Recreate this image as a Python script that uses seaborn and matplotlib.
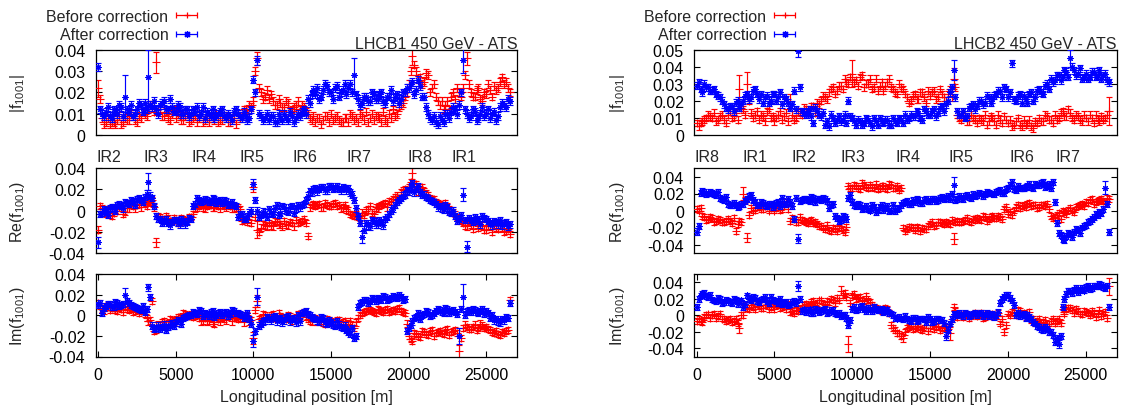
import numpy as np
import matplotlib
matplotlib.use("Agg")
import matplotlib.pyplot as plt
import matplotlib.transforms as mtransforms
from matplotlib.container import ErrorbarContainer
from matplotlib.legend_handler import HandlerErrorbar
from matplotlib.ticker import FuncFormatter, MultipleLocator
import seaborn as sns

sns.set_style("ticks")
plt.rcParams["font.family"] = ["Liberation Sans", "DejaVu Sans"]
plt.rcParams["mathtext.fontset"] = "custom"
plt.rcParams["mathtext.rm"] = "Liberation Sans"
plt.rcParams["mathtext.it"] = "Liberation Sans"
plt.rcParams["axes.unicode_minus"] = False

FS = 11.5

# BPM longitudinal positions [m], first group
s_pos = [
    0, 250, 500, 750, 1000, 1250, 1500, 1750, 2000, 2250, 2500, 2750,
    3000, 3250, 3500, 3750, 4000, 4250, 4500, 4750, 5000, 5250, 5500, 5750,
    6000, 6250, 6500, 6750, 7000, 7250, 7500, 7750, 8000, 8250, 8500, 8750,
    9000, 9250, 9500, 9750, 10000, 10250, 10500, 10750, 11000, 11250, 11500, 11750,
    12000, 12250, 12500, 12750, 13000, 13250, 13500, 13750, 14000, 14250, 14500, 14750,
    15000, 15250, 15500, 15750, 16000, 16250, 16500, 16750, 17000, 17250, 17500, 17750,
    18000, 18250, 18500, 18750, 19000, 19250, 19500, 19750, 20000, 20250, 20500, 20750,
    21000, 21250, 21500, 21750, 22000, 22250, 22500, 22750, 23000, 23250, 23500, 23750,
    24000, 24250, 24500, 24750, 25000, 25250, 25500, 25750, 26000, 26250, 26500,
]
# BPM longitudinal positions [m], second group (in between)
s_pos_mid = [
    125, 375, 625, 875, 1125, 1375, 1625, 1875, 2125, 2375, 2625, 2875,
    3125, 3375, 3625, 3875, 4125, 4375, 4625, 4875, 5125, 5375, 5625, 5875,
    6125, 6375, 6625, 6875, 7125, 7375, 7625, 7875, 8125, 8375, 8625, 8875,
    9125, 9375, 9625, 9875, 10125, 10375, 10625, 10875, 11125, 11375, 11625, 11875,
    12125, 12375, 12625, 12875, 13125, 13375, 13625, 13875, 14125, 14375, 14625, 14875,
    15125, 15375, 15625, 15875, 16125, 16375, 16625, 16875, 17125, 17375, 17625, 17875,
    18125, 18375, 18625, 18875, 19125, 19375, 19625, 19875, 20125, 20375, 20625, 20875,
    21125, 21375, 21625, 21875, 22125, 22375, 22625, 22875, 23125, 23375, 23625, 23875,
    24125, 24375, 24625, 24875, 25125, 25375, 25625, 25875, 26125, 26375,
]

# ---- Beam 1 coupling RDT f1001 (units of 1e-3) ----
b1_abs_before = [
    22, 8, 6, 5, 6, 7, 5, 8, 7, 9, 6, 8,
    10, 12, 14, 34, 12, 9, 8, 10, 8, 9, 7, 10,
    7, 9, 8, 6, 8, 9, 7, 6, 7, 9, 6, 8,
    10, 9, 12, 14, 16, 36, 20, 18, 17, 16, 14, 15,
    13, 15, 12, 14, 12, 13, 10, 7, 6, 8, 7, 9,
    10, 8, 7, 6, 8, 10, 7, 6, 9, 11, 8, 7,
    9, 6, 7, 10, 12, 10, 14, 18, 24, 37, 30, 27,
    25, 28, 22, 18, 14, 12, 16, 18, 17, 20, 22, 36,
    20, 18, 22, 16, 19, 21, 23, 22, 27, 25, 20,
]
b1_abs_before_mid = [
    17, 5, 8, 6, 5, 9, 6, 7, 10, 7, 9, 11,
    9, 14, 11, 12, 9, 11, 7, 12, 10, 7, 9, 6,
    8, 6, 10, 7, 6, 8, 10, 7, 9, 6, 8, 5,
    8, 12, 10, 13, 30, 22, 17, 21, 19, 14, 17, 13,
    16, 11, 13, 16, 14, 11, 8, 9, 8, 5, 9, 6,
    7, 9, 6, 8, 6, 9, 8, 10, 7, 6, 10, 9,
    8, 11, 6, 8, 9, 13, 15, 20, 30, 33, 26, 24,
    29, 20, 24, 16, 16, 14, 12, 20, 22, 18, 28, 24,
    18, 21, 17, 20, 24, 18, 21, 25, 24, 22,
]
b1_abs_after = [
    32, 10, 11, 9, 12, 10, 13, 18, 11, 9, 12, 14,
    15, 27, 13, 12, 14, 16, 12, 13, 11, 13, 10, 12,
    10, 11, 9, 13, 11, 9, 8, 10, 12, 8, 9, 11,
    10, 8, 9, 8, 26, 35, 9, 8, 7, 9, 6, 8,
    10, 7, 9, 8, 9, 12, 17, 19, 19, 17, 21, 23,
    20, 22, 18, 21, 19, 24, 28, 17, 15, 18, 16, 19,
    17, 20, 15, 18, 16, 19, 17, 20, 22, 25, 21, 23,
    18, 10, 7, 6, 9, 6, 10, 11, 12, 14, 35, 10,
    9, 11, 8, 13, 10, 8, 11, 9, 15, 13, 16,
]
b1_abs_after_mid = [
    12, 9, 13, 8, 11, 14, 9, 12, 14, 10, 15, 11,
    12, 14, 16, 10, 15, 12, 17, 11, 14, 10, 12, 9,
    12, 13, 10, 8, 10, 12, 9, 11, 9, 10, 7, 12,
    9, 11, 7, 12, 20, 10, 7, 10, 9, 6, 10, 7,
    8, 11, 6, 10, 11, 10, 15, 21, 22, 18, 24, 20,
    17, 23, 20, 24, 22, 20, 19, 14, 18, 16, 20, 17,
    19, 16, 18, 21, 18, 15, 20, 22, 24, 19, 26, 18,
    13, 8, 9, 5, 7, 10, 8, 13, 10, 20, 12, 8,
    12, 7, 10, 9, 12, 10, 7, 13, 14, 17,
]
b1_re_before = [
    -18, 2, -3, -4, -2, 0, 3, -1, 2, 4, 5, 3,
    6, 9, 10, -30, -6, -8, -7, -10, -9, -11, -8, -10,
    -6, 2, 4, 3, 4, 5, 3, 4, 5, 3, 4, 2,
    3, -10, -8, -5, 22, -18, -16, -14, -12, -15, -11, -13,
    -10, -14, -12, -9, -11, -8, -24, 5, 4, 6, 3, 5,
    4, 7, 5, 3, 1, -3, -5, -6, -2, 0, 4, -3,
    2, 5, 7, 9, 11, 14, 17, 20, 22, 35, 25, 20,
    18, 14, 10, 8, 6, 3, 4, 0, -3, -8, -12, -15,
    -13, -10, -16, -14, -18, -15, -12, -17, -16, -19, -22,
]
b1_re_before_mid = [
    4, -2, 1, -5, 1, 3, -3, 2, 5, 2, 6, 8,
    4, 8, 3, -5, -8, -5, -10, -7, -12, -7, -9, -6,
    -3, 3, 5, 2, 6, 3, 5, 2, 4, 6, 2, 3,
    1, -9, -11, -12, -6, -20, -13, -15, -14, -10, -13, -15,
    -13, -11, -15, -12, -10, -12, 3, 6, 5, 3, 7, 4,
    6, 4, 2, 5, 0, -4, -3, -7, -4, 1, -2, 3,
    4, 6, 3, 8, 13, 12, 19, 18, 27, 23, 18, 22,
    16, 12, 11, 7, 5, 7, 1, -2, -6, -10, -14, -11,
    -17, -12, -14, -18, -14, -20, -16, -13, -20, -17,
]
b1_re_after = [
    -30, -2, 0, 2, 3, 5, 4, 8, 6, 9, 11, 10,
    13, 27, 12, -5, -8, -10, -12, -11, -9, -13, -10, -11,
    -8, 6, 10, 9, 10, 8, 11, 9, 7, 9, 6, 5,
    -6, -3, -8, -2, 25, 0, -4, -2, 1, -3, 5, -2,
    3, -1, 4, 2, 3, 6, 14, 17, 21, 20, 22, 19,
    23, 21, 20, 22, 19, 17, 10, -5, -25, -12, -15, -10,
    -13, -11, -8, -3, 2, 8, 12, 15, 18, 26, 20, 17,
    15, 12, 9, 6, 4, 1, 3, -2, -5, -8, 15, -34,
    -9, -6, -10, -5, -8, -12, -10, -13, -14, -11, -13,
]
b1_re_after_mid = [
    -3, 1, -4, 3, 0, 6, 2, 7, 10, 5, 12, 8,
    16, 14, 4, -8, -12, -8, -14, -9, -12, -8, -13, -7,
    4, 12, 8, 11, 8, 12, 7, 10, 10, 5, 8, 4,
    -3, -8, -5, 0, 10, -6, -1, -6, -2, 2, -4, 4,
    0, 3, -2, 5, 5, 10, 18, 20, 18, 22, 19, 23,
    20, 23, 19, 21, 21, 15, 2, -12, -18, -14, -9, -13,
    -9, -14, -6, 0, 5, 10, 14, 19, 22, 17, 23, 15,
    13, 10, 8, 3, 2, 5, -1, 0, -10, -4, -9, -7,
    -11, -8, -13, -7, -10, -14, -11, -9, -12, -15,
]
b1_im_before = [
    12, 6, 8, 5, 7, 4, 6, 8, 5, 3, 6, 4,
    1, -6, 14, -12, -10, -6, -8, -5, -4, -2, 2, 0,
    1, -1, -3, -5, -6, -3, -8, -4, -2, -5, -1, -3,
    -4, 0, -2, -6, -22, 14, -3, 0, -2, 1, -4, -1,
    -3, 0, -5, -2, -1, 3, -4, -6, -3, -5, -7, -4,
    -6, -8, -5, -7, -9, -6, -12, -3, 2, 4, 5, 3,
    6, 4, 5, 3, 5, 6, 4, 2, -20, -25, -18, -21,
    -16, -19, -14, -17, -15, -18, -13, -16, -14, -35, -12, -11,
    -13, -9, -12, -10, -11, -14, -17, -18, -16, -15, 15,
]
b1_im_before_mid = [
    9, 4, 10, 7, 5, 8, 3, 6, 7, 4, 2, 5,
    -3, -5, -15, -9, -7, -9, -4, -6, -2, -3, 1, -1,
    -2, 0, -6, -3, -5, -7, -2, -6, -4, -1, -6, -2,
    -3, -7, 0, -5, 5, -4, 1, -2, 0, -3, 2, -2,
    -4, -1, -3, 1, 2, -2, -5, -3, -6, -4, -8, -5,
    -7, -5, -9, -6, -8, -10, -7, 0, 3, 6, 4, 2,
    5, 3, 6, 4, 4, 7, 3, -8, -23, -17, -20, -15,
    -18, -15, -20, -16, -17, -14, -19, -15, -17, -22, -9, -13,
    -11, -14, -8, -12, -13, -16, -15, -19, -17, -14,
]
b1_im_after = [
    10, 2, 9, 11, 8, 12, 10, 20, 12, 9, 7, 5,
    3, 27, -10, -12, -13, -9, -11, -8, -7, -5, -3, -1,
    0, 2, 5, -1, 1, 3, -2, 2, 0, 3, 1, 4,
    2, 0, -1, -4, -25, 18, -8, -5, -4, -2, -6, -3,
    -5, -1, -4, -7, -6, 3, 1, -2, -4, -6, -3, -8,
    -7, -10, -9, -12, -14, -18, -22, 8, 13, 15, 14, 16,
    17, 15, 18, 16, 19, 17, 18, 16, -12, -6, -2, -4,
    1, 3, 0, 4, 5, 2, 6, 4, 3, -20, 18, 4,
    3, 5, 2, 6, 4, -3, -5, -6, -4, -2, 12,
]
b1_im_after_mid = [
    12, 7, 11, 8, 13, 9, 11, 14, 10, 8, 6, 9,
    6, 18, -13, -10, -11, -14, -9, -10, -5, -8, -2, 0,
    3, 1, 4, 2, -1, 4, 0, 3, 2, -1, 5, 2,
    1, -3, 2, -8, -15, -10, -6, -2, -5, -1, -3, -7,
    -2, -6, -3, 0, 2, 4, 0, -3, -5, -2, -7, -5,
    -9, -6, -11, -10, -16, -12, -20, 12, 15, 12, 17, 14,
    16, 19, 15, 17, 18, 20, 15, -15, -9, -3, 2, 0,
    4, -1, 2, 6, 3, 7, 2, 5, 1, 6, 0, 5,
    6, 3, 4, 1, 2, 0, -4, -7, -5, -3,
]

# ---- Beam 2 coupling RDT f1001 (units of 1e-3) ----
b2_abs_before = [
    7, 7, 9, 12, 10, 8, 11, 9, 12, 10, 13, 27,
    15, 30, 13, 12, 9, 11, 14, 10, 8, 12, 9, 13,
    20, 9, 14, 12, 15, 13, 17, 19, 20, 22, 25, 28,
    26, 29, 33, 30, 36, 32, 34, 28, 30, 27, 33, 29,
    26, 31, 28, 25, 30, 27, 22, 20, 24, 21, 25, 19,
    23, 26, 22, 24, 20, 27, 33, 12, 9, 11, 8, 10,
    7, 9, 12, 8, 10, 6, 9, 11, 7, 5, 8, 6,
    9, 7, 5, 8, 10, 8, 11, 9, 12, 10, 14, 11,
    13, 9, 11, 8, 10, 12, 7, 9, 11, 10, 14,
]
b2_abs_before_mid = [
    5, 8, 10, 11, 13, 9, 12, 7, 14, 11, 9, 16,
    12, 20, 10, 14, 12, 8, 15, 11, 10, 14, 11, 8,
    12, 10, 13, 16, 14, 17, 13, 18, 23, 21, 27, 24,
    29, 27, 31, 34, 31, 29, 35, 30, 33, 28, 26, 31,
    29, 33, 27, 24, 28, 24, 19, 23, 21, 25, 22, 26,
    25, 21, 27, 22, 24, 22, 28, 10, 11, 8, 12, 9,
    10, 8, 6, 11, 8, 12, 7, 9, 9, 6, 10, 5,
    6, 9, 4, 7, 8, 12, 9, 7, 9, 13, 11, 15,
    10, 12, 9, 12, 8, 10, 12, 8, 9, 12,
]
b2_abs_after = [
    29, 27, 30, 28, 26, 24, 22, 18, 15, 17, 19, 16,
    20, 24, 22, 27, 21, 19, 23, 20, 24, 22, 18, 21,
    16, 26, 49, 14, 12, 15, 7, 14, 11, 6, 5, 10,
    9, 8, 12, 20, 10, 6, 8, 7, 9, 5, 8, 10,
    7, 9, 6, 8, 10, 7, 9, 12, 11, 13, 9, 14,
    12, 15, 13, 17, 18, 25, 38, 14, 12, 10, 16, 18,
    17, 20, 19, 22, 21, 24, 26, 28, 22, 42, 20, 24,
    23, 19, 25, 22, 27, 24, 30, 33, 32, 35, 34, 37,
    45, 38, 36, 33, 36, 34, 37, 35, 33, 36, 31,
]
b2_abs_after_mid = [
    31, 25, 28, 26, 27, 23, 20, 16, 17, 14, 20, 18,
    23, 21, 26, 24, 24, 22, 19, 24, 20, 25, 22, 19,
    18, 15, 28, 13, 14, 11, 16, 12, 13, 8, 12, 7,
    11, 9, 7, 11, 8, 9, 6, 10, 7, 10, 6, 8,
    9, 6, 10, 7, 9, 12, 10, 11, 14, 10, 15, 12,
    14, 11, 16, 14, 20, 28, 22, 12, 14, 11, 17, 15,
    20, 18, 23, 19, 23, 26, 22, 27, 25, 21, 23, 19,
    21, 24, 20, 26, 25, 29, 27, 31, 35, 32, 38, 34,
    40, 35, 39, 34, 33, 37, 34, 38, 35, 32,
]
b2_re_before = [
    2, 3, -8, -10, -9, -12, -11, -14, -10, -15, -24, -12,
    20, -32, 3, 1, 4, 2, 5, 3, 0, 4, 2, 10,
    -12, -10, -14, -11, -13, -12, -15, -16, -18, -22, -23, -21,
    -24, -18, -25, 29, 27, 29, 25, 30, 26, 28, 31, 27,
    29, 25, 30, 27, 24, -20, -22, -19, -23, -21, -20, -22,
    -16, -18, -14, -15, -13, -16, -33, -12, -14, -11, -12, -10,
    -9, -11, -8, -10, -7, -9, -8, 2, -4, -5, 4, 3,
    6, 8, 5, 7, 4, 6, 8, -6, -8, -3, 0, -4,
    3, -2, 5, 8, 10, 12, 8, 11, 13, 9, 14,
]
b2_re_before_mid = [
    0, -6, -11, -8, -13, -10, -14, -12, -12, -9, -16, -14,
    12, -5, 0, 4, 2, 5, 0, 4, 3, 1, 5, 2,
    -9, -13, -8, -12, -15, -11, -14, -18, -20, -17, -24, -22,
    -20, -23, -19, 26, 30, 26, 32, 28, 30, 27, 25, 29,
    27, 31, 26, 29, 27, -24, -19, -21, -19, -24, -22, -18,
    -14, -17, -13, -16, -15, -11, -14, -13, -12, -9, -13, -11,
    -10, -7, -12, -8, -9, -6, -10, 4, -2, 0, 6, 5,
    4, 9, 6, 3, 7, 5, 2, -9, -5, -10, -2, 1,
    0, 4, 7, 5, 9, 13, 10, 12, 11, 15,
]
b2_re_after = [
    -25, 21, 22, 20, 21, 18, 15, 12, 8, 6, 7, 5,
    8, 14, 18, 10, 7, 9, 5, 8, 6, 10, 15, 8,
    10, -10, -33, 12, 14, 11, 15, 13, 12, 14, 3, 8,
    -9, -11, -8, 15, 10, 5, 7, 3, 2, 6, -2, 4,
    1, 5, 0, -1, 3, 9, 11, 8, 10, 12, 9, 13,
    11, 14, 12, 16, 15, 13, 30, 14, 15, 17, 16, 19,
    18, 20, 19, 21, 20, 22, 24, 21, 26, 33, 24, 27,
    26, 29, 28, 31, 30, 33, 29, 27, 10, -26, -33, -30,
    -28, -25, -23, -20, -17, -12, -8, -5, -3, 27, -25,
]
b2_re_after_mid = [
    -18, 23, 19, 22, 19, 22, 13, 16, 6, 9, 4, 8,
    11, 17, 12, 6, 10, 6, 8, 4, 9, 5, 8, 13,
    5, 15, 11, 14, 12, 16, 10, 14, 15, 11, 6, -7,
    -12, -7, -10, 18, 6, 8, 2, 5, 0, 4, 1, 7,
    3, -1, 6, 2, 7, 10, 8, 12, 13, 9, 12, 11,
    13, 11, 15, 13, 17, 20, 12, 17, 14, 18, 15, 17,
    21, 17, 22, 20, 19, 23, 21, 25, 30, 25, 29, 26,
    28, 31, 26, 30, 32, 28, 31, 33, -15, -29, -35, -27,
    -31, -22, -26, -18, -14, -10, -4, -2, 2, 8,
]
b2_im_before = [
    -7, -7, -2, 1, 0, -3, 2, -5, -6, -8, -5, -16,
    0, 9, 12, 8, 11, 9, 13, 10, 8, 12, 10, 7,
    4, 3, 5, 12, 14, 11, 17, 15, 18, 13, 16, 19,
    21, 30, 27, -35, 24, 20, 22, 17, 18, 12, 9, 7,
    6, 8, -12, -18, -22, -28, -15, -13, -16, -14, -18, -12,
    -15, -17, -13, -16, -14, -22, 10, -2, 0, 2, -3, 1,
    -1, 3, -2, 0, 2, -1, -10, -20, 2, 4, 0, 5,
    3, 1, -6, -9, -5, -8, -11, -7, -9, -5, 8, 7,
    9, 3, 5, 1, 4, 0, 3, 2, -1, 4, 35,
]
b2_im_before_mid = [
    -5, -8, 0, -3, 2, -1, -4, -7, -4, -7, -9, 0,
    12, 7, 10, 14, 9, 12, 8, 11, 13, 9, 11, 14,
    5, 6, 8, 13, 11, 16, 12, 18, 14, 17, 20, 15,
    18, 24, 22, 15, 26, 21, 18, 23, 16, 10, 8, 5,
    9, 3, -15, -22, -25, -20, -14, -17, -13, -17, -15, -19,
    -12, -14, -18, -15, -17, -5, 5, 1, -2, 1, -1, 3,
    1, -3, 2, -1, 0, 3, -5, -12, 0, 3, 6, 1,
    -2, 4, -4, -7, -9, -6, -10, -4, -7, -9, 2, 9,
    6, 8, 2, 5, 3, 5, -2, 6, 2, -3,
]
b2_im_after = [
    10, 24, 27, 22, 19, 17, 20, 16, 18, 15, 19, 17,
    10, 24, 18, 21, 16, 20, 17, 22, 18, 15, 14, 16,
    13, 17, 35, 5, 4, 7, 3, 6, 5, 8, 4, 6,
    1, -1, 0, -12, 8, 6, 10, 7, 9, 5, 8, 6,
    4, 7, 2, -3, -2, -5, -4, -7, -3, -6, -4, -8,
    -5, -7, -4, -6, -25, -10, 2, 0, 1, 3, -1, 2,
    0, 3, 1, -1, 2, 0, 15, 22, 25, 18, 0, -1,
    2, 0, -5, -10, -14, -18, -16, -20, -32, -35, 10, 26,
    29, 31, 28, 33, 34, 32, 36, 35, 37, 33, 10,
]
b2_im_after_mid = [
    20, 26, 23, 25, 18, 21, 15, 19, 16, 20, 14, 18,
    14, 20, 22, 17, 19, 22, 15, 19, 17, 20, 15, 12,
    16, 15, 20, 7, 6, 3, 8, 4, 7, 3, 6, 2,
    3, 0, -3, -6, 10, 7, 11, 5, 7, 10, 6, 8,
    5, 3, 0, -4, -4, -1, -6, -3, -7, -4, -5, -2,
    -8, -4, -6, -9, -18, -5, 1, 3, -1, 2, 0, 3,
    2, -1, 3, 1, -2, 4, 20, 25, 21, 12, 3, 1,
    -3, -2, -8, -13, -17, -14, -20, -24, -28, -25, 20, 29,
    27, 33, 31, 30, 36, 33, 35, 38, 34, 36,
]

# typical measurement uncertainty per series, and wider bars at single BPMs (1e-3)
err_b1 = {"abs": 1.8, "re": 3.0, "im": 3.0}
err_b2 = {"abs": 2.0, "re": 3.5, "im": 3.5}
wide_b1 = {
    ("abs", "before"): {0: 4, 15: 5, 41: 3, 81: 4, 95: 3},
    ("abs", "after"): {7: 10, 13: 13, 41: 2, 66: 8, 94: 6},
    ("re", "before"): {15: 4, 40: 5, 41: 8, 54: 3, 81: 5},
    ("re", "after"): {0: 5, 13: 8, 40: 5, 68: 6, 94: 6, 95: 5},
    ("im", "before"): {15: 5, 40: 6, 41: 6, 93: 6},
    ("im", "after"): {7: 6, 13: 3, 40: 6, 41: 8, 93: 8, 94: 12},
}
wide_b2 = {
    ("abs", "before"): {11: 8, 13: 7, 24: 4, 40: 8, 66: 6, 106: 8},
    ("abs", "after"): {26: 3, 66: 6, 81: 2, 96: 5},
    ("re", "before"): {12: 8, 13: 5, 37: 6, 66: 6},
    ("re", "after"): {0: 4, 26: 5, 66: 10, 105: 8},
    ("im", "before"): {11: 5, 37: 5, 39: 10, 53: 5, 65: 8, 106: 10},
    ("im", "after"): {26: 6, 64: 5, 93: 5},
}

ir_b1 = ["IR2", "IR3", "IR4", "IR5", "IR6", "IR7", "IR8", "IR1"]
ir_b1_s = [710, 3715, 6800, 9915, 13330, 16805, 20735, 23565]
ir_b2 = ["IR8", "IR1", "IR2", "IR3", "IR4", "IR5", "IR6", "IR7"]
ir_b2_s = [680, 3760, 6870, 10050, 13550, 16990, 20880, 23860]

beams = [
    dict(title="LHCB1 450 GeV - ATS", x0=95.7, x1=517.3, abs_max=0.04, lim=0.04,
         leg_x=197, ylab_x=17.5, ir=ir_b1, ir_s=ir_b1_s, err=err_b1, wide=wide_b1,
         data={("abs", "before"): (b1_abs_before, b1_abs_before_mid),
               ("abs", "after"): (b1_abs_after, b1_abs_after_mid),
               ("re", "before"): (b1_re_before, b1_re_before_mid),
               ("re", "after"): (b1_re_after, b1_re_after_mid),
               ("im", "before"): (b1_im_before, b1_im_before_mid),
               ("im", "after"): (b1_im_after, b1_im_after_mid)}),
    dict(title="LHCB2 450 GeV - ATS", x0=694.3, x1=1117.0, abs_max=0.05, lim=0.05,
         leg_x=795, ylab_x=617.5, ir=ir_b2, ir_s=ir_b2_s, err=err_b2, wide=wide_b2,
         data={("abs", "before"): (b2_abs_before, b2_abs_before_mid),
               ("abs", "after"): (b2_abs_after, b2_abs_after_mid),
               ("re", "before"): (b2_re_before, b2_re_before_mid),
               ("re", "after"): (b2_re_after, b2_re_after_mid),
               ("im", "before"): (b2_im_before, b2_im_before_mid),
               ("im", "after"): (b2_im_after, b2_im_after_mid)}),
]

for b in beams:
    for k, (v1, v2) in b["data"].items():
        if len(v1) != len(s_pos) or len(v2) != len(s_pos_mid):
            raise ValueError(f"{b['title']} {k}: {len(v1)} / {len(v2)} values")

W, H = 1129, 410
fig = plt.figure(figsize=(W / 100, H / 100), dpi=100)

rows = [("abs", 50.7, 136.0), ("re", 169.0, 254.0), ("im", 275.0, 357.5)]
ylabels = {"abs": r"|f$_{1001}$|", "re": r"Re(f$_{1001}$)", "im": r"Im(f$_{1001}$)"}
style = {
    "before": dict(color="#ff0000", marker="+", size=30),
    "after": dict(color="#0000ff", marker=(8, 2, 0), size=14),
}
fmt_y = FuncFormatter(lambda v, p: "%g" % (round(v, 4) + 0.0))
fmt_x = FuncFormatter(lambda v, p: "%d" % v)
s_all = np.asarray(s_pos + s_pos_mid, dtype=float)

for b in beams:
    axes = {}
    for key, y0, y1 in rows:
        ax = fig.add_axes([b["x0"] / W, 1 - y1 / H, (b["x1"] - b["x0"]) / W, (y1 - y0) / H])
        axes[key] = ax
        for z, state in enumerate(["before", "after"]):
            st = style[state]
            v1, v2 = b["data"][(key, state)]
            vals = np.asarray(list(v1) + list(v2), dtype=float) * 1e-3
            err = np.full(len(vals), b["err"][key] * 1e-3)
            for i, w in b["wide"][(key, state)].items():
                err[i] = w * 1e-3
            ax.errorbar(s_all, vals, yerr=err, fmt="none", ecolor=st["color"],
                        elinewidth=0.85, capsize=2.2, capthick=0.85, zorder=2 + 2 * z)
            sns.scatterplot(x=s_all, y=vals, ax=ax, marker=st["marker"], color=st["color"],
                            s=st["size"], linewidth=0.8, zorder=3 + 2 * z, legend=False)
        ax.set_xlim(-150, 27000)
        if key == "abs":
            ax.set_ylim(0, b["abs_max"])
            ax.yaxis.set_major_locator(MultipleLocator(0.01))
        else:
            ax.set_ylim(-b["lim"], b["lim"])
            ax.yaxis.set_major_locator(MultipleLocator(0.02))
        ax.yaxis.set_major_formatter(fmt_y)
        ax.xaxis.set_major_locator(MultipleLocator(5000))
        ax.xaxis.set_major_formatter(fmt_x)
        ax.tick_params(axis="y", direction="in", left=True, right=True, length=4,
                       width=0.8, pad=7.5, labelsize=FS, colors="black")
        if key == "im":
            ax.tick_params(axis="x", direction="in", bottom=True, top=True, length=4,
                           width=0.8, pad=7.5, labelsize=FS, colors="black")
            ax.set_xlabel("Longitudinal position [m]", fontsize=FS, labelpad=5)
        else:
            ax.tick_params(axis="x", bottom=False, top=False, labelbottom=False)
            ax.set_xlabel("")
        for sp in ax.spines.values():
            sp.set_visible(True)
            sp.set_linewidth(0.9)
            sp.set_color("black")
        ax.set_ylabel(ylabels[key], fontsize=FS, va="center")
        ax.yaxis.set_label_coords((b["ylab_x"] - b["x0"]) / (b["x1"] - b["x0"]), 0.5)

    top = axes["abs"]
    lift = mtransforms.ScaledTranslation(0, 2.0 / 100, fig.dpi_scale_trans)
    top.text(1.0, 1.0, b["title"], transform=top.transAxes + lift, ha="right",
             va="baseline", fontsize=FS, zorder=10, clip_on=False)
    mid = axes["re"]
    for name, s in zip(b["ir"], b["ir_s"]):
        mid.text(s, b["lim"] + (2 * b["lim"]) * 0.14, name, ha="center", va="center",
                 fontsize=FS)

    # legend proxies: horizontal error bar with the series marker
    handles = []
    for state in ["before", "after"]:
        st = style[state]
        h = top.errorbar([np.nan], [np.nan], xerr=[1.0], fmt="", marker=st["marker"],
                         linestyle="none", color=st["color"], ms=5, mew=0.9,
                         elinewidth=0.9, capsize=2.2, capthick=0.9)
        handles.append(h)
    top.legend(handles, ["Before correction", "After correction"],
               handler_map={ErrorbarContainer: HandlerErrorbar(xerr_size=0.65)},
               markerfirst=False, frameon=False, loc="upper right",
               bbox_to_anchor=(b["leg_x"] / W, 1 - 9.5 / H), bbox_transform=fig.transFigure,
               borderpad=0, borderaxespad=0, handlelength=1.3, handletextpad=0.5,
               labelspacing=0.24, fontsize=FS, numpoints=1)

fig.savefig("out.png", dpi=100)
